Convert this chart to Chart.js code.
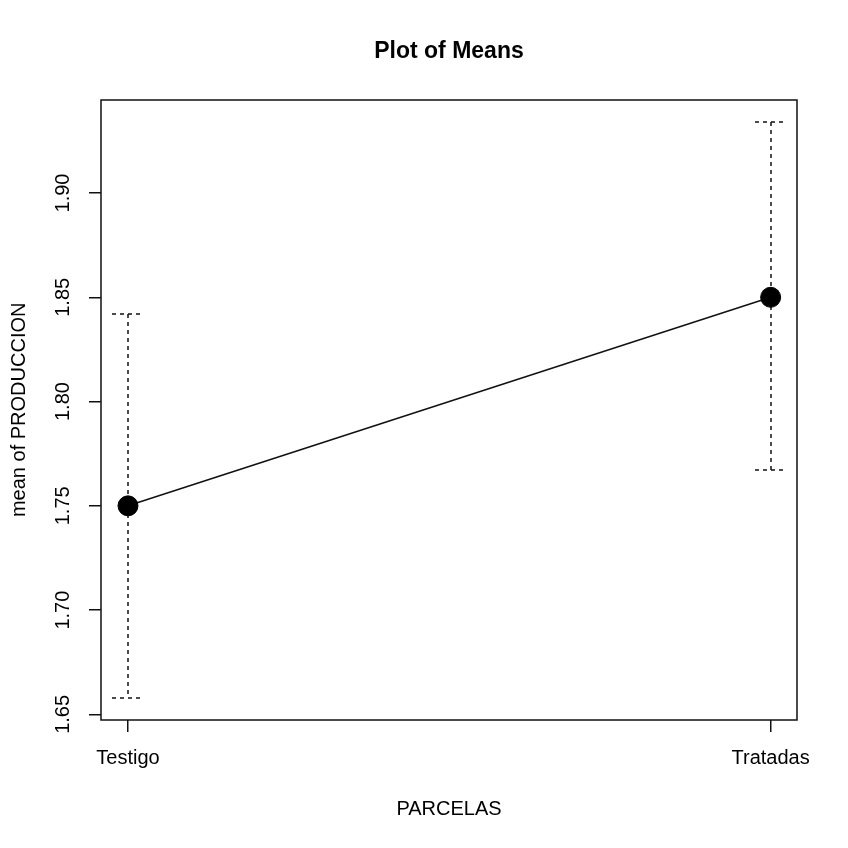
<!DOCTYPE html>
<html>
<head>
<meta charset="utf-8">
<script src="https://cdn.jsdelivr.net/npm/chart.js@4/dist/chart.umd.min.js"></script>
<style>
  body { margin: 0; background: #fff; }
  #wrap { width: 848px; height: 848px; }
</style>
</head>
<body>
<div id="wrap"><canvas id="grafik" width="848" height="848"></canvas></div>
<script>
// data
const kategori = ['Testigo', 'Tratadas'];
const rataRata = [1.75, 1.85];
const batasAtas = [1.842, 1.934];
const batasBawah = [1.658, 1.767];
const tickY = [1.65, 1.70, 1.75, 1.80, 1.85, 1.90];

Chart.defaults.font.family = "'Liberation Sans', Arial, sans-serif";
Chart.defaults.color = '#000';

// garis error putus-putus
const errorBar = {
  id: 'errorBar',
  beforeDatasetsDraw(chart) {
    const ctx = chart.ctx;
    const xs = chart.scales.x, ys = chart.scales.y;
    ctx.save();
    ctx.strokeStyle = '#111';
    ctx.lineWidth = 1.5;
    ctx.setLineDash([4, 4]);
    for (let i = 0; i < kategori.length; i++) {
      const x = Math.round(xs.getPixelForValue(i + 1));
      const yA = Math.round(ys.getPixelForValue(batasAtas[i]));
      const yB = Math.round(ys.getPixelForValue(batasBawah[i]));
      ctx.beginPath();
      ctx.moveTo(x, yA); ctx.lineTo(x, yB);
      ctx.moveTo(x - 16, yA); ctx.lineTo(x + 16, yA);
      ctx.moveTo(x - 16, yB); ctx.lineTo(x + 16, yB);
      ctx.stroke();
    }
    ctx.restore();
  }
};

// kotak plot
const kotak = {
  id: 'kotak',
  afterDraw(chart) {
    const a = chart.chartArea;
    const ctx = chart.ctx;
    ctx.save();
    ctx.strokeStyle = '#111';
    ctx.lineWidth = 1.5;
    ctx.strokeRect(Math.round(a.left), Math.round(a.top),
      Math.round(a.right - a.left), Math.round(a.bottom - a.top));
    ctx.restore();
  }
};

const ctx = document.getElementById('grafik').getContext('2d');
new Chart(ctx, {
  type: 'line',
  data: {
    datasets: [{
      data: rataRata.map((v, i) => ({ x: i + 1, y: v })),
      borderColor: '#111',
      borderWidth: 1.5,
      backgroundColor: '#000',
      pointBackgroundColor: '#000',
      pointBorderColor: '#000',
      pointRadius: 10,
      pointBorderWidth: 1,
      tension: 0
    }]
  },
  options: {
    responsive: false,
    animation: false,
    layout: { padding: { top: 0, right: 51, bottom: 0, left: 0 } },
    plugins: {
      legend: { display: false },
      tooltip: { enabled: false },
      title: {
        display: true,
        text: 'Plot of Means',
        fullSize: false,
        font: { size: 23, weight: 'bold', lineHeight: 1.2 },
        padding: { top: 38, bottom: 34 },
        color: '#000'
      }
    },
    scales: {
      x: {
        type: 'linear',
        min: 0.958,
        max: 2.041,
        border: { display: false },
        grid: { drawOnChartArea: false, tickLength: 12, color: '#111', lineWidth: 1.5 },
        ticks: {
          autoSkip: false,
          maxRotation: 0,
          padding: 14,
          font: { size: 20 },
          callback: v => kategori[v - 1]
        },
        afterBuildTicks: s => { s.ticks = kategori.map((k, i) => ({ value: i + 1 })); },
        afterFit: s => { s.height = 128; s.paddingLeft = 0; s.paddingRight = 0; },
        title: {
          display: true,
          text: 'PARCELAS',
          font: { size: 20, lineHeight: 1.2 },
          padding: { top: 0, bottom: 27 }
        }
      },
      y: {
        min: 1.6473,
        max: 1.9448,
        border: { display: false },
        grid: { drawOnChartArea: false, tickLength: 12, color: '#111', lineWidth: 1.5 },
        ticks: {
          autoSkip: false,
          minRotation: 90,
          maxRotation: 90,
          crossAlign: 'center',
          padding: 6,
          font: { size: 20 },
          callback: v => v.toFixed(2)
        },
        afterBuildTicks: s => { s.ticks = tickY.map(v => ({ value: v })); },
        afterFit: s => { s.width = 101; s.paddingTop = 0; s.paddingBottom = 0; },
        title: {
          display: true,
          text: 'mean of PRODUCCION',
          font: { size: 20, lineHeight: 1.2 },
          padding: { top: 7, bottom: 0 }
        }
      }
    }
  },
  plugins: [errorBar, kotak]
});
</script>
</body>
</html>
